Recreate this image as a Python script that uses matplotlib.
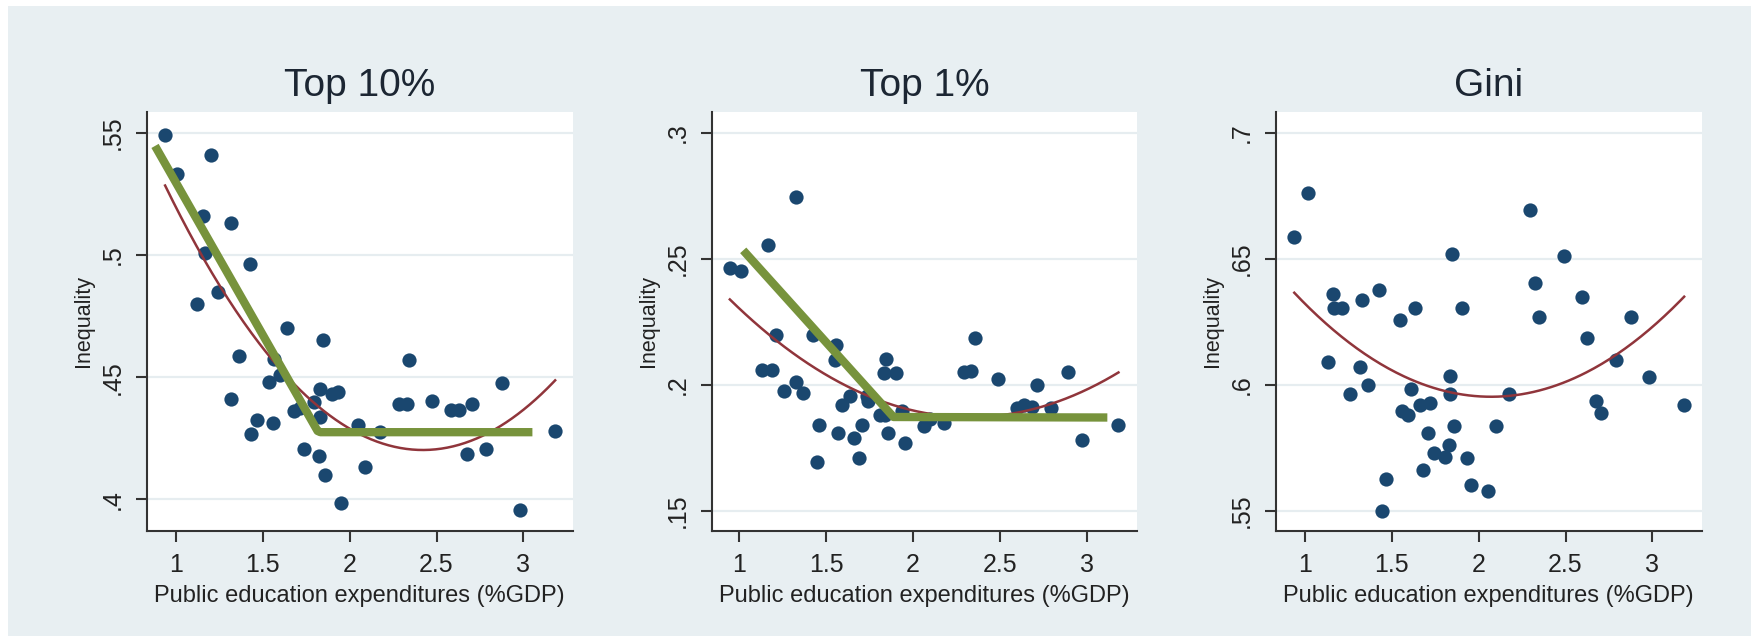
import numpy as np
import matplotlib
matplotlib.use('Agg')
import matplotlib.pyplot as plt
from matplotlib.patches import Rectangle

plt.rcParams['font.family'] = ['Liberation Sans', 'DejaVu Sans']

# Data: public education expenditures (%GDP) vs inequality measures
titles = ['Top 10%', 'Top 1%', 'Gini']

top10_x = [0.937, 1.004, 1.202, 1.154, 1.317, 1.167, 1.427, 1.244, 1.119, 1.638,
           1.844, 1.365, 1.562, 1.596, 1.533, 2.340, 2.879, 1.317, 1.831, 1.898,
           1.933, 2.283, 2.327, 2.475, 2.581, 2.629, 2.706, 1.677, 1.715, 1.792,
           1.827, 1.465, 1.558, 1.431, 2.048, 2.177, 3.183, 1.735, 1.821, 1.856,
           2.087, 2.673, 2.783, 1.952, 2.981]
top10_y = [0.549, 0.533, 0.541, 0.516, 0.513, 0.5006, 0.4965, 0.485, 0.480, 0.470,
           0.4654, 0.4586, 0.4574, 0.451, 0.448, 0.457, 0.4475, 0.441, 0.445, 0.443,
           0.444, 0.439, 0.439, 0.4403, 0.4364, 0.4364, 0.4392, 0.436, 0.4375, 0.4397,
           0.4338, 0.4323, 0.4313, 0.4268, 0.4306, 0.4275, 0.428, 0.4207, 0.4178, 0.410,
           0.4134, 0.4185, 0.4207, 0.3984, 0.3956]

top1_x = [0.946, 1.013, 1.163, 1.327, 1.212, 1.423, 1.129, 1.187, 1.260, 1.327,
          1.365, 1.558, 1.552, 1.462, 1.446, 1.571, 1.590, 1.638, 1.658, 1.687,
          1.706, 1.744, 1.735, 1.808, 1.840, 1.846, 1.831, 1.904, 1.856, 1.937,
          1.952, 2.062, 2.100, 2.177, 2.292, 2.337, 2.356, 2.490, 2.600, 2.638,
          2.687, 2.715, 2.792, 2.894, 2.975, 3.183]
top1_y = [0.2466, 0.2452, 0.2554, 0.2747, 0.2200, 0.2197, 0.2058, 0.2058, 0.1978, 0.2013,
          0.1970, 0.2159, 0.2098, 0.1843, 0.1694, 0.1811, 0.1921, 0.1956, 0.1789, 0.1711,
          0.1843, 0.1935, 0.1956, 0.1879, 0.1879, 0.2105, 0.2046, 0.2048, 0.1811, 0.1896,
          0.1768, 0.1836, 0.1864, 0.1850, 0.2051, 0.2055, 0.2186, 0.2023, 0.1907, 0.1921,
          0.1914, 0.1999, 0.1907, 0.2051, 0.1782, 0.1843]

gini_x = [0.938, 1.015, 1.160, 1.169, 1.215, 1.135, 1.327, 1.427, 1.317, 1.365,
          1.260, 1.544, 1.631, 1.610, 1.558, 1.592, 1.660, 1.721, 1.706, 1.744,
          1.679, 1.465, 1.442, 1.846, 1.837, 1.837, 1.904, 1.856, 1.827, 1.804,
          1.933, 1.956, 2.054, 2.100, 2.177, 2.294, 2.323, 2.350, 2.490, 2.596,
          2.625, 2.673, 2.706, 2.788, 2.879, 2.981, 3.183]
gini_y = [0.6587, 0.6761, 0.6360, 0.6306, 0.6306, 0.6091, 0.6339, 0.6378, 0.6070, 0.5999,
          0.5963, 0.6258, 0.6306, 0.5985, 0.5896, 0.5879, 0.5921, 0.5928, 0.5811, 0.5730,
          0.5662, 0.5628, 0.5500, 0.6519, 0.6037, 0.5963, 0.6306, 0.5836, 0.5761, 0.5716,
          0.5709, 0.5602, 0.5581, 0.5836, 0.5963, 0.6693, 0.6405, 0.6271, 0.6511, 0.6350,
          0.6186, 0.5935, 0.5888, 0.6098, 0.6271, 0.6030, 0.5921]

# hand-drawn green kinked lines (vertices)
top10_kink_x = [0.879, 1.815, 1.831, 3.052]
top10_kink_y = [0.5446, 0.4280, 0.4275, 0.4275]
top1_kink_x = [1.023, 1.888, 3.119]
top1_kink_y = [0.2534, 0.1873, 0.1871]

xticks = [1, 1.5, 2, 2.5, 3]
xticklabels = ['1', '1.5', '2', '2.5', '3']
yticks = [[0.4, 0.45, 0.5, 0.55], [0.15, 0.2, 0.25, 0.3], [0.55, 0.6, 0.65, 0.7]]
yticklabels = [['.4', '.45', '.5', '.55'], ['.15', '.2', '.25', '.3'], ['.55', '.6', '.65', '.7']]
ylims = [(0.3872, 0.5586), (0.1422, 0.3084), (0.5422, 0.7084)]
xlims = [(0.831, 3.284), (0.845, 3.288), (0.831, 3.284)]

xs = [top10_x, top1_x, gini_x]
ys = [top10_y, top1_y, gini_y]
kinks = [(top10_kink_x, top10_kink_y), (top1_kink_x, top1_kink_y), None]

bg = '#E8EFF2'
navy = '#1A476F'
maroon = '#90353B'
green = '#77933C'

W, H = 1751, 636
fig = plt.figure(figsize=(W / 100, H / 100), dpi=100)
fig.patch.set_facecolor('white')
fig.patches.append(Rectangle((8 / W, 0), 1, 1 - 6 / H, transform=fig.transFigure,
                             facecolor=bg, edgecolor='none', zorder=-10))

lefts = [146.7, 712.3, 1275.7]
widths = [426.0, 424.4, 426.0]
top_px, bottom_px = 111.7, 530.7

for i in range(3):
    ax = fig.add_axes([lefts[i] / W, (H - bottom_px) / H, widths[i] / W, (bottom_px - top_px) / H])
    ax.set_facecolor('white')
    x = np.array(xs[i])
    y = np.array(ys[i])

    # gridlines
    for t in yticks[i]:
        ax.axhline(t, color='#E6EDF0', lw=1.6, zorder=0)

    ax.scatter(x, y, s=105, color=navy, zorder=3, linewidths=0)

    # quadratic fit
    c = np.polyfit(x, y, 2)
    xx = np.linspace(x.min(), x.max(), 200)
    ax.plot(xx, np.polyval(c, xx), color=maroon, lw=1.8, zorder=4)

    if kinks[i] is not None:
        kx, ky = kinks[i]
        ax.plot(kx, ky, color=green, lw=6, zorder=5, solid_capstyle='butt')

    ax.set_xlim(*xlims[i])
    ax.set_ylim(*ylims[i])
    ax.set_xticks(xticks)
    ax.set_xticklabels(xticklabels)
    ax.set_yticks(yticks[i])
    ax.set_yticklabels(yticklabels[i], rotation=90, va='center')

    for s in ['top', 'right']:
        ax.spines[s].set_visible(False)
    for s in ['left', 'bottom']:
        ax.spines[s].set_color('#333333')
        ax.spines[s].set_linewidth(1.5)
    ax.tick_params(axis='both', direction='out', length=8, width=1.5, color='#333333',
                   labelsize=18, labelcolor='#222222', pad=8)

    ax.set_xlabel('Public education expenditures (%GDP)', fontsize=17, color='#222222', labelpad=6)
    ax.set_ylabel('Inequality', fontsize=15.5, color='#222222', labelpad=5)
    ax.set_title(titles[i], fontsize=28, color='#1C2633', pad=11)

fig.savefig('out.png', dpi=100, facecolor=fig.get_facecolor())
